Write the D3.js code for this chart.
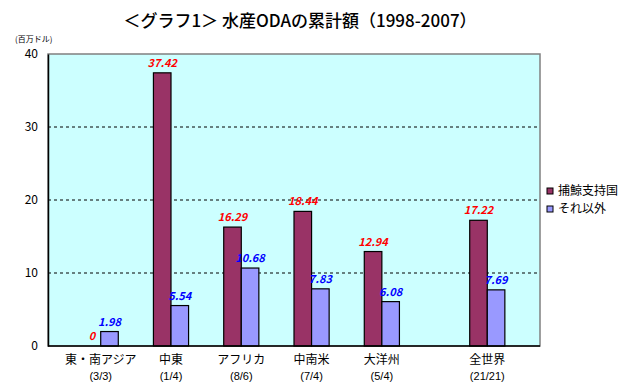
<!DOCTYPE html>
<html>
<head>
<meta charset="utf-8">
<script src="https://cdn.jsdelivr.net/npm/d3@7"></script>
<style>
  body { margin: 0; background: #fff; }
  text { font-family: "Noto Sans CJK JP", "DejaVu Sans", sans-serif; }
</style>
</head>
<body>
<div id="chart"></div>
<script>
// data
const regions = ["東・南アジア", "中東", "アフリカ", "中南米", "大洋州", "", "全世界"];
const counts  = ["(3/3)", "(1/4)", "(8/6)", "(7/4)", "(5/4)", "", "(21/21)"];
const whaling = [0, 37.42, 16.29, 18.44, 12.94, null, 17.22];
const others  = [1.98, 5.54, 10.68, 7.83, 6.08, null, 7.69];
const seriesNames = ["捕鯨支持国", "それ以外"];
const yTicks = [0, 10, 20, 30, 40];

const W = 628, H = 390;
const margin = { top: 54, right: 88, bottom: 44, left: 48 };
const width = W - margin.left - margin.right;
const height = H - margin.top - margin.bottom;

const colors = ["#993366", "#9999ff"];

const svg = d3.select("#chart").append("svg")
    .attr("width", W)
    .attr("height", H);

// title + unit
svg.append("text")
    .attr("x", 300).attr("y", 27)
    .attr("text-anchor", "middle")
    .attr("font-size", 17)
    .attr("font-weight", 500)
    .text("＜グラフ1＞ 水産ODAの累計額（1998-2007）");
svg.append("text")
    .attr("x", 15).attr("y", 42)
    .attr("font-size", 8)
    .text("(百万ドル)");

const g = svg.append("g").attr("transform", `translate(${margin.left},${margin.top})`);

const x0 = d3.scaleBand().domain(d3.range(regions.length)).range([0, width]);
// four slots per category: regions use the right two, the world total the left two
const x1 = d3.scaleBand().domain([0, 1, 2, 3]).range([0, x0.bandwidth()]);
const slotsFor = i => regions[i] === "全世界" ? [0, 1] : [2, 3];

const y = d3.scaleLinear().domain([0, 40]).range([height, 0]);

// plot background
g.append("rect")
    .attr("width", width).attr("height", height)
    .attr("fill", "#ccffff")
    .attr("stroke", "#808080").attr("stroke-width", 1.5);

// dashed gridlines
g.append("g")
    .selectAll("line")
    .data(yTicks.filter(d => d > 0 && d < 40))
    .join("line")
    .attr("x1", 0).attr("x2", width)
    .attr("y1", d => y(d)).attr("y2", d => y(d))
    .attr("stroke", "#000").attr("stroke-dasharray", "3,3");

// y axis
const yAxis = g.append("g")
    .call(d3.axisLeft(y).tickValues(yTicks).tickSize(0).tickPadding(10));
yAxis.select(".domain").attr("stroke", "#000").attr("stroke-width", 1.5);
yAxis.selectAll("text").attr("font-size", 12).attr("font-family", "Liberation Sans, Arial, sans-serif");

// bars
const rows = [];
regions.forEach((r, i) => {
  [whaling[i], others[i]].forEach((v, s) => {
    if (v === null) return;
    rows.push({ i, s, v, x: x0(i) + x1(slotsFor(i)[s]) });
  });
});

g.append("g")
    .selectAll("rect")
    .data(rows)
    .join("rect")
    .attr("x", d => d.x)
    .attr("y", d => y(d.v))
    .attr("width", x1.bandwidth())
    .attr("height", d => y(0) - y(d.v))
    .attr("fill", d => colors[d.s])
    .attr("stroke", "#000").attr("stroke-width", 1.2);

// value labels
g.append("g")
    .selectAll("text")
    .data(rows)
    .join("text")
    .attr("x", d => d.x + x1.bandwidth() / 2)
    .attr("y", d => y(d.v) - 6)
    .attr("text-anchor", "middle")
    .attr("font-family", "Liberation Sans, Arial, sans-serif")
    .attr("font-size", 11)
    .attr("font-weight", "bold")
    .attr("font-style", "italic")
    .attr("fill", d => d.s === 0 ? "#ff0000" : "#0000ff")
    .text(d => d.v);

// x axis line
g.append("line")
    .attr("x1", 0).attr("x2", width)
    .attr("y1", height).attr("y2", height)
    .attr("stroke", "#000").attr("stroke-width", 1.5);

// category labels, centred under each bar pair
const labels = g.append("g")
    .selectAll("text")
    .data(d3.range(regions.length).filter(i => regions[i] !== ""))
    .join("text")
    .attr("transform", i => {
      const cx = x0(i) + x1(slotsFor(i)[1]);
      return `translate(${cx},${height})`;
    })
    .attr("text-anchor", "middle")
    .attr("font-size", 12);
labels.append("tspan").attr("x", 0).attr("y", 18).text(i => regions[i]);
labels.append("tspan").attr("x", 0).attr("y", 34).attr("font-size", 11)
    .attr("font-family", "Liberation Sans, Arial, sans-serif").text(i => counts[i]);

// legend
const legend = svg.append("g").attr("transform", "translate(547,188)");
const item = legend.selectAll("g")
    .data(seriesNames)
    .join("g")
    .attr("transform", (d, k) => `translate(0,${k * 18})`);
item.append("rect")
    .attr("width", 6).attr("height", 6)
    .attr("fill", (d, k) => colors[k])
    .attr("stroke", "#000");
item.append("text")
    .attr("x", 11).attr("y", 7)
    .attr("font-size", 12)
    .text(d => d);
</script>
</body>
</html>
